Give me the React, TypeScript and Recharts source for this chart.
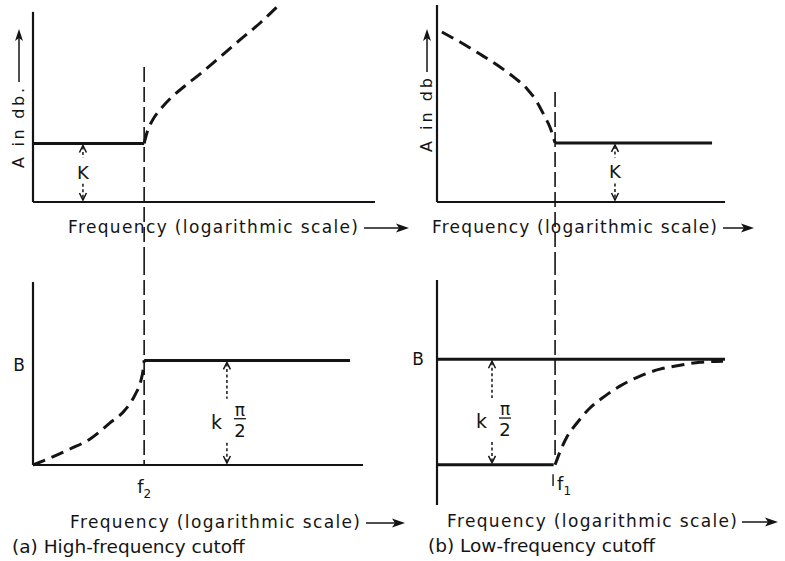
import React from 'react';
import { LineChart, Line, XAxis, YAxis, ReferenceLine } from 'recharts';

const INK = '#141414';
const FONT = '"DejaVu Sans", Lato, sans-serif';

// x = frequency on a log scale (arbitrary units), A = attenuation in db, B = phase (in units of k*pi/2)
const hiCutoff = 3.25; // f2
const loCutoff = 4.1; // f1
const attenK = 3;
const phaseTop = 1;

// (a) high-frequency cutoff
const hiPassA = [{ x: 0, y: 3 }, { x: 3.25, y: 3 }];
const hiStopA = [
  { x: 3.25, y: 3 }, { x: 3.33, y: 3.54 }, { x: 3.48, y: 4.15 }, { x: 3.71, y: 4.72 },
  { x: 4.0, y: 5.28 }, { x: 4.44, y: 5.95 }, { x: 4.88, y: 6.56 }, { x: 5.47, y: 7.44 },
  { x: 6.05, y: 8.31 }, { x: 6.64, y: 9.18 }, { x: 7.13, y: 10 },
];
const hiPhaseB = [
  { x: 0, y: 0 }, { x: 0.5, y: 0.067 }, { x: 1.08, y: 0.153 }, { x: 1.67, y: 0.249 },
  { x: 2.25, y: 0.402 }, { x: 2.69, y: 0.526 }, { x: 2.98, y: 0.669 }, { x: 3.16, y: 0.813 },
  { x: 3.22, y: 0.908 }, { x: 3.25, y: 1 },
];
const hiPhaseFlat = [{ x: 3.25, y: 1 }, { x: 9.27, y: 1 }];

// (b) low-frequency cutoff
const loStopA = [
  { x: 0.17, y: 8.63 }, { x: 0.8, y: 8.12 }, { x: 1.49, y: 7.51 }, { x: 2.19, y: 6.85 },
  { x: 2.71, y: 6.29 }, { x: 3.13, y: 5.74 }, { x: 3.47, y: 5.08 }, { x: 3.75, y: 4.31 },
  { x: 3.92, y: 3.81 }, { x: 4.1, y: 3 },
];
const loPassA = [{ x: 4.1, y: 3 }, { x: 9.55, y: 3 }];
const loPhaseFlat = [{ x: 0, y: 0 }, { x: 4.05, y: 0 }];
const loPhaseB = [
  { x: 4.1, y: 0 }, { x: 4.27, y: 0.123 }, { x: 4.51, y: 0.264 }, { x: 4.86, y: 0.396 },
  { x: 5.31, y: 0.538 }, { x: 5.83, y: 0.651 }, { x: 6.35, y: 0.745 }, { x: 7.05, y: 0.84 },
  { x: 7.74, y: 0.906 }, { x: 8.44, y: 0.943 }, { x: 9.13, y: 0.972 }, { x: 9.93, y: 0.981 },
];

const freqTitle = 'Frequency (logarithmic scale)';
const captionA = '(a) High-frequency cutoff';
const captionB = '(b) Low-frequency cutoff';

const solid = { stroke: INK, strokeWidth: 3, dot: false, isAnimationActive: false, type: 'monotone' as const };
const dashed = { ...solid, strokeDasharray: '13 7' };
const axisLine = { stroke: INK, strokeWidth: 2.2, ifOverflow: 'visible' as const };
const cutLine = { stroke: INK, strokeWidth: 1.6, strokeDasharray: '15 5', ifOverflow: 'visible' as const };

// Label props (x, y, ...) are injected by recharts, so own positions use other names
const FreqTitle = ({ tx, ty, len, arrowFrom, arrowTo, caption, capX }: any) => {
  const ay = ty - 5;
  return (
    <g fontFamily={FONT}>
      <text x={tx} y={ty} fontSize={17} fill={INK} textLength={len} lengthAdjust="spacing">
        {freqTitle}
      </text>
      <line x1={arrowFrom} y1={ay} x2={arrowTo - 8} y2={ay} stroke={INK} strokeWidth={1.5} />
      <path d={`M${arrowTo},${ay} L${arrowTo - 13},${ay - 4.5} L${arrowTo - 10},${ay} L${arrowTo - 13},${ay + 4.5} Z`} fill={INK} />
      {caption && (
        <text x={capX} y={ty + 25} fontSize={18.5} fill={INK}>
          {caption}
        </text>
      )}
    </g>
  );
};

const ATitle = ({ tx, base, len, arrowTop, text }: any) => {
  const ax = tx - 5;
  return (
    <g fontFamily={FONT}>
      <text
        x={tx}
        y={base}
        transform={`rotate(-90 ${tx} ${base})`}
        fontSize={16}
        fill={INK}
        textLength={len}
        lengthAdjust="spacing"
      >
        {text}
      </text>
      <line x1={ax} y1={base - len - 6} x2={ax} y2={arrowTop + 8} stroke={INK} strokeWidth={1.5} />
      <path d={`M${ax},${arrowTop} L${ax - 4},${arrowTop + 12} L${ax},${arrowTop + 9} L${ax + 4},${arrowTop + 12} Z`} fill={INK} />
    </g>
  );
};

const BTitle = ({ tx, ty }: any) => (
  <text x={tx} y={ty} fontSize={17} fill={INK} fontFamily={FONT} textAnchor="middle">B</text>
);

// double headed span arrow between two levels, with its label
const Span = (props: any) => {
  const { x1, y1, y2, phase } = props;
  const x = x1;
  const top = Math.min(y1, y2);
  const bot = Math.max(y1, y2);
  const mid = (top + bot) / 2;
  const upEnd = phase ? mid - 14 : mid - 15;
  const downStart = phase ? mid + 30 : mid + 11;
  return (
    <g>
      <g stroke={INK} strokeWidth={1.5} fill="none">
        <line x1={x} y1={top + 3} x2={x} y2={upEnd} strokeDasharray="3 2.5" />
        <polyline points={`${x - 3.5},${top + 9} ${x},${top + 2} ${x + 3.5},${top + 9}`} />
        <line x1={x} y1={downStart} x2={x} y2={bot - 3} strokeDasharray="3 2.5" />
        <polyline points={`${x - 3.5},${bot - 9} ${x},${bot - 2} ${x + 3.5},${bot - 9}`} />
      </g>
      {phase ? (
        <g fontFamily={FONT} fill={INK}>
          <text x={x - 5} y={mid + 16} fontSize={19} textAnchor="end">k</text>
          <text x={x + 13} y={mid + 3} fontSize={17} textAnchor="middle">π</text>
          <line x1={x + 7} y1={mid + 6} x2={x + 19} y2={mid + 6} stroke={INK} strokeWidth={1.3} />
          <text x={x + 13} y={mid + 24} fontSize={18} textAnchor="middle">2</text>
        </g>
      ) : (
        <text x={x} y={mid + 6} fontSize={18} fill={INK} fontFamily={FONT} textAnchor="middle">K</text>
      )}
    </g>
  );
};

const FreqMark = (props: any) => {
  const { x1, y1, x2, y2, stroke, strokeWidth, strokeDasharray, sub, labelDx, labelDy, anchor } = props;
  const bot = Math.max(y1, y2);
  return (
    <g>
      <line x1={x1} y1={y1} x2={x2} y2={y2} stroke={stroke} strokeWidth={strokeWidth} strokeDasharray={strokeDasharray} />
      {sub && (
        <text x={x1 + labelDx} y={bot + labelDy} fontSize={18} fill={INK} fontFamily={FONT} textAnchor={anchor}>
          f<tspan fontSize={12} dy={5}>{sub}</tspan>
        </text>
      )}
    </g>
  );
};

const Panel = ({ left, top, width, height, margin, yWidth, xHeight, yDomain, xLabel, yLabel, children }: any) => (
  <div style={{ position: 'absolute', left, top, width, height }}>
    <LineChart width={width} height={height} margin={margin}>
      <XAxis
        type="number"
        dataKey="x"
        domain={[0, 10]}
        tick={false}
        tickLine={false}
        axisLine={false}
        height={xHeight}
        label={xLabel}
      />
      <YAxis
        type="number"
        dataKey="y"
        domain={yDomain}
        tick={false}
        tickLine={false}
        axisLine={false}
        width={yWidth}
        label={yLabel}
      />
      {children}
    </LineChart>
  </div>
);

export default function App() {
  return (
    <div style={{ position: 'absolute', left: 0, top: 0, width: 785, height: 561, background: '#fff', overflow: 'hidden' }}>
      {/* (a) attenuation */}
      <Panel
        left={0} top={0} width={420} height={260}
        margin={{ top: 7, right: 45, bottom: 0, left: 0 }}
        yWidth={33} xHeight={58} yDomain={[0, 10]}
        xLabel={<FreqTitle tx={68} ty={233} len={290} arrowFrom={364} arrowTo={409} />}
        yLabel={<ATitle tx={24} base={168} len={80} arrowTop={29} text="A in db." />}
      >
        <ReferenceLine segment={[{ x: 0, y: 0 }, { x: 10, y: 0 }]} {...axisLine} />
        <ReferenceLine segment={[{ x: 0, y: 0 }, { x: 0, y: 9.75 }]} {...axisLine} />
        <ReferenceLine segment={[{ x: hiCutoff, y: 6.92 }, { x: hiCutoff, y: -2.97 }]} {...cutLine} />
        <ReferenceLine segment={[{ x: 1.46, y: 0 }, { x: 1.46, y: attenK }]} ifOverflow="visible" shape={(p: any) => <Span {...p} />} />
        <Line data={hiPassA} dataKey="y" {...solid} />
        <Line data={hiStopA} dataKey="y" {...dashed} />
      </Panel>

      {/* (b) attenuation */}
      <Panel
        left={392} top={0} width={393} height={260}
        margin={{ top: 5, right: 60, bottom: 0, left: 0 }}
        yWidth={45} xHeight={58} yDomain={[0, 10]}
        xLabel={<FreqTitle tx={40} ty={233} len={285} arrowFrom={331} arrowTo={362} />}
        yLabel={<ATitle tx={40} base={152} len={74} arrowTop={29} text="A in db" />}
      >
        <ReferenceLine segment={[{ x: 0, y: 0 }, { x: 10, y: 0 }]} {...axisLine} />
        <ReferenceLine segment={[{ x: 0, y: 0 }, { x: 0, y: 10 }]} {...axisLine} />
        <ReferenceLine segment={[{ x: loCutoff, y: 5.58 }, { x: loCutoff, y: -2.94 }]} {...cutLine} />
        <ReferenceLine segment={[{ x: 6.18, y: 0 }, { x: 6.18, y: attenK }]} ifOverflow="visible" shape={(p: any) => <Span {...p} />} />
        <Line data={loStopA} dataKey="y" {...dashed} />
        <Line data={loPassA} dataKey="y" {...solid} />
      </Panel>

      {/* (a) phase */}
      <Panel
        left={0} top={260} width={420} height={301}
        margin={{ top: 22, right: 45, bottom: 0, left: 0 }}
        yWidth={33} xHeight={96} yDomain={[0, 1.75]}
        xLabel={<FreqTitle tx={70} ty={268} len={290} arrowFrom={366} arrowTo={405} caption={captionA} capX={12} />}
        yLabel={<BTitle tx={19} ty={111} />}
      >
        <ReferenceLine segment={[{ x: 0, y: 0 }, { x: 9.65, y: 0 }]} {...axisLine} />
        <ReferenceLine segment={[{ x: 0, y: 0 }, { x: 0, y: 1.75 }]} {...axisLine} />
        <ReferenceLine
          segment={[{ x: hiCutoff, y: 1.96 }, { x: hiCutoff, y: 0 }]}
          {...cutLine}
          shape={(p: any) => <FreqMark {...p} sub="2" labelDx={0} labelDy={28} anchor="middle" />}
        />
        <ReferenceLine segment={[{ x: 5.67, y: 0 }, { x: 5.67, y: phaseTop }]} ifOverflow="visible" shape={(p: any) => <Span {...p} phase />} />
        <Line data={hiPhaseB} dataKey="y" {...dashed} />
        <Line data={hiPhaseFlat} dataKey="y" {...solid} />
      </Panel>

      {/* (b) phase */}
      <Panel
        left={392} top={260} width={393} height={301}
        margin={{ top: 20, right: 60, bottom: 0, left: 0 }}
        yWidth={45} xHeight={56} yDomain={[-0.38, 1.75]}
        xLabel={<FreqTitle tx={55} ty={267} len={290} arrowFrom={350} arrowTo={386} caption={captionB} capX={36} />}
        yLabel={<BTitle tx={26} ty={105} />}
      >
        <ReferenceLine segment={[{ x: 0, y: -0.38 }, { x: 0, y: 1.75 }]} {...axisLine} />
        <ReferenceLine segment={[{ x: 0, y: phaseTop }, { x: 10, y: phaseTop }]} {...axisLine} strokeWidth={3} />
        <ReferenceLine segment={[{ x: loCutoff, y: 1.94 }, { x: loCutoff, y: 0.05 }]} {...cutLine} />
        <ReferenceLine
          segment={[{ x: 4.03, y: -0.09 }, { x: 4.03, y: -0.2 }]}
          stroke={INK}
          strokeWidth={1.4}
          ifOverflow="visible"
          shape={(p: any) => <FreqMark {...p} sub="1" labelDx={4} labelDy={4} anchor="start" />}
        />
        <ReferenceLine segment={[{ x: 1.91, y: 0 }, { x: 1.91, y: phaseTop }]} ifOverflow="visible" shape={(p: any) => <Span {...p} phase />} />
        <Line data={loPhaseFlat} dataKey="y" {...solid} />
        <Line data={loPhaseB} dataKey="y" {...dashed} />
      </Panel>
    </div>
  );
}
